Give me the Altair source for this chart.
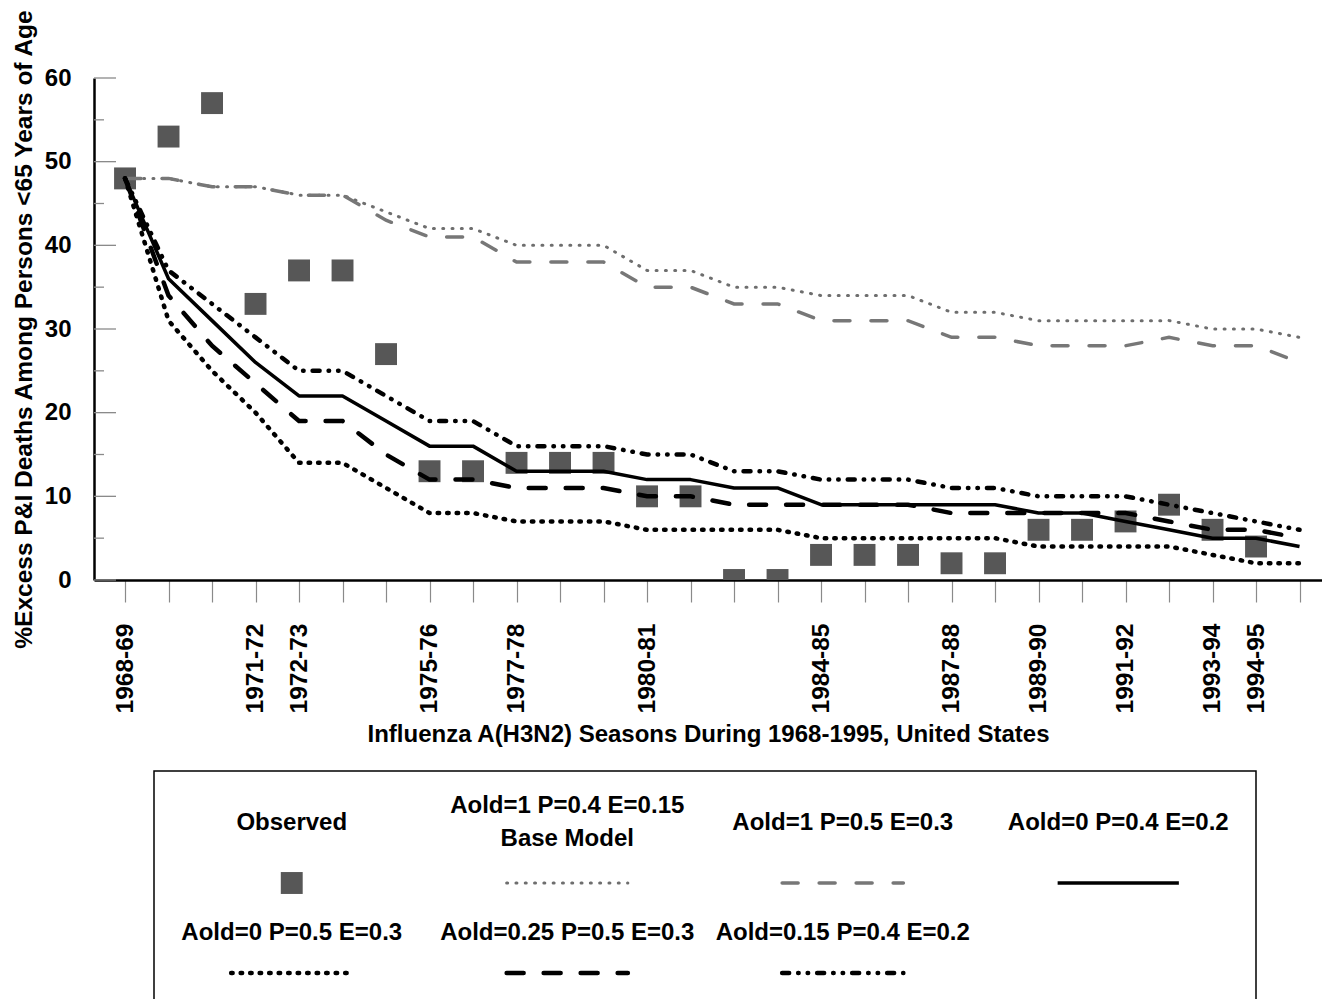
import altair as alt
import pandas as pd

# ---------------- data ----------------
seasons = ["1968-69", "1969-70", "1970-71", "1971-72", "1972-73", "1973-74", "1974-75",
           "1975-76", "1976-77", "1977-78", "1978-79", "1979-80", "1980-81", "1981-82",
           "1982-83", "1983-84", "1984-85", "1985-86", "1986-87", "1987-88", "1988-89",
           "1989-90", "1990-91", "1991-92", "1992-93", "1993-94", "1994-95", "1995-96"]
labeled_seasons = ["1968-69", "1971-72", "1972-73", "1975-76", "1977-78", "1980-81",
                   "1984-85", "1987-88", "1989-90", "1991-92", "1993-94", "1994-95"]

observed = [48, 53, 57, 33, 37, 37, 27, 13, 13, 14, 14, 14, 10, 10, 0, 0, 3, 3, 3, 2, 2,
            6, 6, 7, 9, 6, 4]
base_model = [48, 48, 47, 47, 46, 46, 44, 42, 42, 40, 40, 40, 37, 37, 35, 35, 34, 34, 34,
              32, 32, 31, 31, 31, 31, 30, 30, 29]
aold1_p05_e03 = [48, 48, 47, 47, 46, 46, 43, 41, 41, 38, 38, 38, 35, 35, 33, 33, 31, 31, 31,
                 29, 29, 28, 28, 28, 29, 28, 28, 26]
aold0_p04_e02 = [48, 36, 31, 26, 22, 22, 19, 16, 16, 13, 13, 13, 12, 12, 11, 11, 9, 9, 9, 9,
                 9, 8, 8, 7, 6, 5, 5, 4]
aold0_p05_e03 = [48, 31, 25, 20, 14, 14, 11, 8, 8, 7, 7, 7, 6, 6, 6, 6, 5, 5, 5, 5, 5, 4, 4,
                 4, 4, 3, 2, 2]
aold025_p05_e03 = [48, 34, 28, 23.5, 19, 19, 15, 12, 12, 11, 11, 11, 10, 10, 9, 9, 9, 9, 9,
                   8, 8, 8, 8, 8, 7, 6, 6, 5]
aold015_p04_e02 = [48, 37, 33, 29, 25, 25, 22, 19, 19, 16, 16, 16, 15, 15, 13, 13, 12, 12, 12,
                   11, 11, 10, 10, 10, 9, 8, 7, 6]

y_ticks_major = [0, 10, 20, 30, 40, 50, 60]
y_ticks_minor = [5, 15, 25, 35, 45, 55]

legend_labels = ["Observed", "Aold=1 P=0.4 E=0.15\nBase Model", "Aold=1 P=0.5 E=0.3",
                 "Aold=0 P=0.4 E=0.2", "Aold=0 P=0.5 E=0.3", "Aold=0.25 P=0.5 E=0.3",
                 "Aold=0.15 P=0.4 E=0.2"]

# ---------------- styles ----------------
FONT = "Liberation Sans"
SQUARE_COLOR = "#575757"
styles = {
    "base": dict(color="#6e6e6e", strokeWidth=3, strokeDash=[1, 8.3], strokeCap="round"),
    "aold1": dict(color="#777777", strokeWidth=3.5, strokeDash=[16, 21], strokeCap="round"),
    "solid": dict(color="black", strokeWidth=3.5, strokeJoin="round"),
    "dotted": dict(color="black", strokeWidth=4.5, strokeDash=[1.5, 8], strokeCap="round"),
    "longdash": dict(color="black", strokeWidth=4.5, strokeDash=[17, 20], strokeCap="round"),
    "dashdot": dict(color="black", strokeWidth=4.5, strokeDash=[7, 9, 0.5, 9, 0.5, 9],
                    strokeCap="round"),
}
series = [("base", base_model), ("aold1", aold1_p05_e03), ("solid", aold0_p04_e02),
          ("dotted", aold0_p05_e03), ("longdash", aold025_p05_e03), ("dashdot", aold015_p04_e02)]

W, H = 1228, 502

label_expr = "indexof([" + ",".join("'%s'" % s for s in labeled_seasons) + "], datum.value) >= 0 ? datum.label : ''"

x_enc = alt.X("season:O", sort=seasons,
              scale=alt.Scale(type="point", domain=seasons, padding=0.615, align=0.58),
              axis=alt.Axis(title="Influenza A(H3N2) Seasons During 1968-1995, United States",
                            labelAngle=-90, labelAlign="right", labelBaseline="middle",
                            labelExpr=label_expr, labelOverlap=False,
                            tickSize=22, tickColor="#8a8a8a", tickWidth=1.2,
                            labelPadding=21, domainColor="black", domainWidth=2.5,
                            labelFont=FONT, labelFontSize=24.5, labelFontWeight="bold",
                            labelColor="black", titleFont=FONT, titleFontSize=24,
                            titleFontWeight="bold", titleColor="black", titlePadding=10,
                            grid=False))
y_enc = alt.Y("value:Q", scale=alt.Scale(domain=[0, 60], nice=False),
              axis=alt.Axis(title="%Excess P&I Deaths Among Persons <65 Years of Age",
                            values=y_ticks_major, ticks=False, tickSize=0, labelPadding=23,
                            domainColor="black", domainWidth=2.5, grid=False,
                            labelFont=FONT, labelFontSize=24, labelFontWeight="bold",
                            labelColor="black", titleFont=FONT, titleFontSize=24.5,
                            titleFontWeight="bold", titleColor="black", titlePadding=8))

obs_df = pd.DataFrame({"season": seasons[:len(observed)], "value": observed})
layers = [alt.Chart(obs_df).mark_square(size=480, color=SQUARE_COLOR, opacity=1, clip=True)
          .encode(x=x_enc, y=y_enc)]
for key, vals in series:
    df = pd.DataFrame({"season": seasons, "value": vals})
    layers.append(alt.Chart(df).mark_line(**styles[key]).encode(x=x_enc, y=y_enc))

tmaj = pd.DataFrame({"value": y_ticks_major})
tmin = pd.DataFrame({"value": y_ticks_minor})
layers.append(alt.Chart(tmaj).mark_rule(color="#8a8a8a", strokeWidth=1.3)
              .encode(y=y_enc, x=alt.value(0), x2=alt.value(22)))
layers.append(alt.Chart(tmin).mark_rule(color="#8a8a8a", strokeWidth=1.3)
              .encode(y=y_enc, x=alt.value(0), x2=alt.value(10)))

main = alt.layer(*layers).properties(width=W, height=H)

# ---------------- legend (custom box) ----------------
LW, LH = 1102, 245
legend_cols = [0, 1, 2, 3, 0, 1, 2]
legend_title_y = [52, 35, 52, 52, 162, 162, 162]
legend_symbol_y = [112, 112, 112, 112, 202, 202, 202]
legend_keys = ["observed", "base", "aold1", "solid", "dotted", "longdash", "dashdot"]

lx = alt.X("lx:Q", scale=alt.Scale(domain=[-0.5, 3.5], nice=False, zero=False), axis=None)
ly = alt.Y("ly:Q", scale=alt.Scale(domain=[0, LH], nice=False, zero=False, reverse=True),
           axis=None)

txt_df = pd.DataFrame({"lx": legend_cols, "ly": legend_title_y, "t": legend_labels})
leg_layers = [alt.Chart(txt_df).mark_text(font=FONT, fontSize=24, fontWeight="bold",
                                          color="black", align="center", baseline="middle",
                                          lineBreak="\n", lineHeight=33)
              .encode(x=lx, y=ly, text="t:N")]
sq_df = pd.DataFrame({"lx": [legend_cols[0]], "ly": [legend_symbol_y[0]]})
leg_layers.append(alt.Chart(sq_df).mark_square(size=480, color=SQUARE_COLOR, opacity=1)
                  .encode(x=lx, y=ly))
HALF = 0.22
for i, key in enumerate(legend_keys):
    if key == "observed":
        continue
    df = pd.DataFrame({"lx": [legend_cols[i] - HALF, legend_cols[i] + HALF],
                       "ly": [legend_symbol_y[i], legend_symbol_y[i]]})
    leg_layers.append(alt.Chart(df).mark_line(**styles[key]).encode(x=lx, y=ly))

legend = alt.layer(*leg_layers).properties(
    width=LW, height=LH, view=alt.ViewBackground(stroke="black", strokeWidth=1.5))

spacer = alt.Chart(pd.DataFrame({"lx": [0.0], "ly": [0.0]})).mark_point(opacity=0, size=1).encode(
    x=alt.X("lx:Q", axis=None), y=alt.Y("ly:Q", axis=None)).properties(width=60, height=5)

legend_row = alt.hconcat(spacer, legend, spacing=0, bounds="flush")

chart = alt.vconcat(main, legend_row, spacing=23).properties(
    padding={"left": 3, "top": 0, "right": 0, "bottom": 0}
).configure_view(strokeWidth=0)

chart.save("out.html", embed_options={"renderer": "svg", "actions": False})
